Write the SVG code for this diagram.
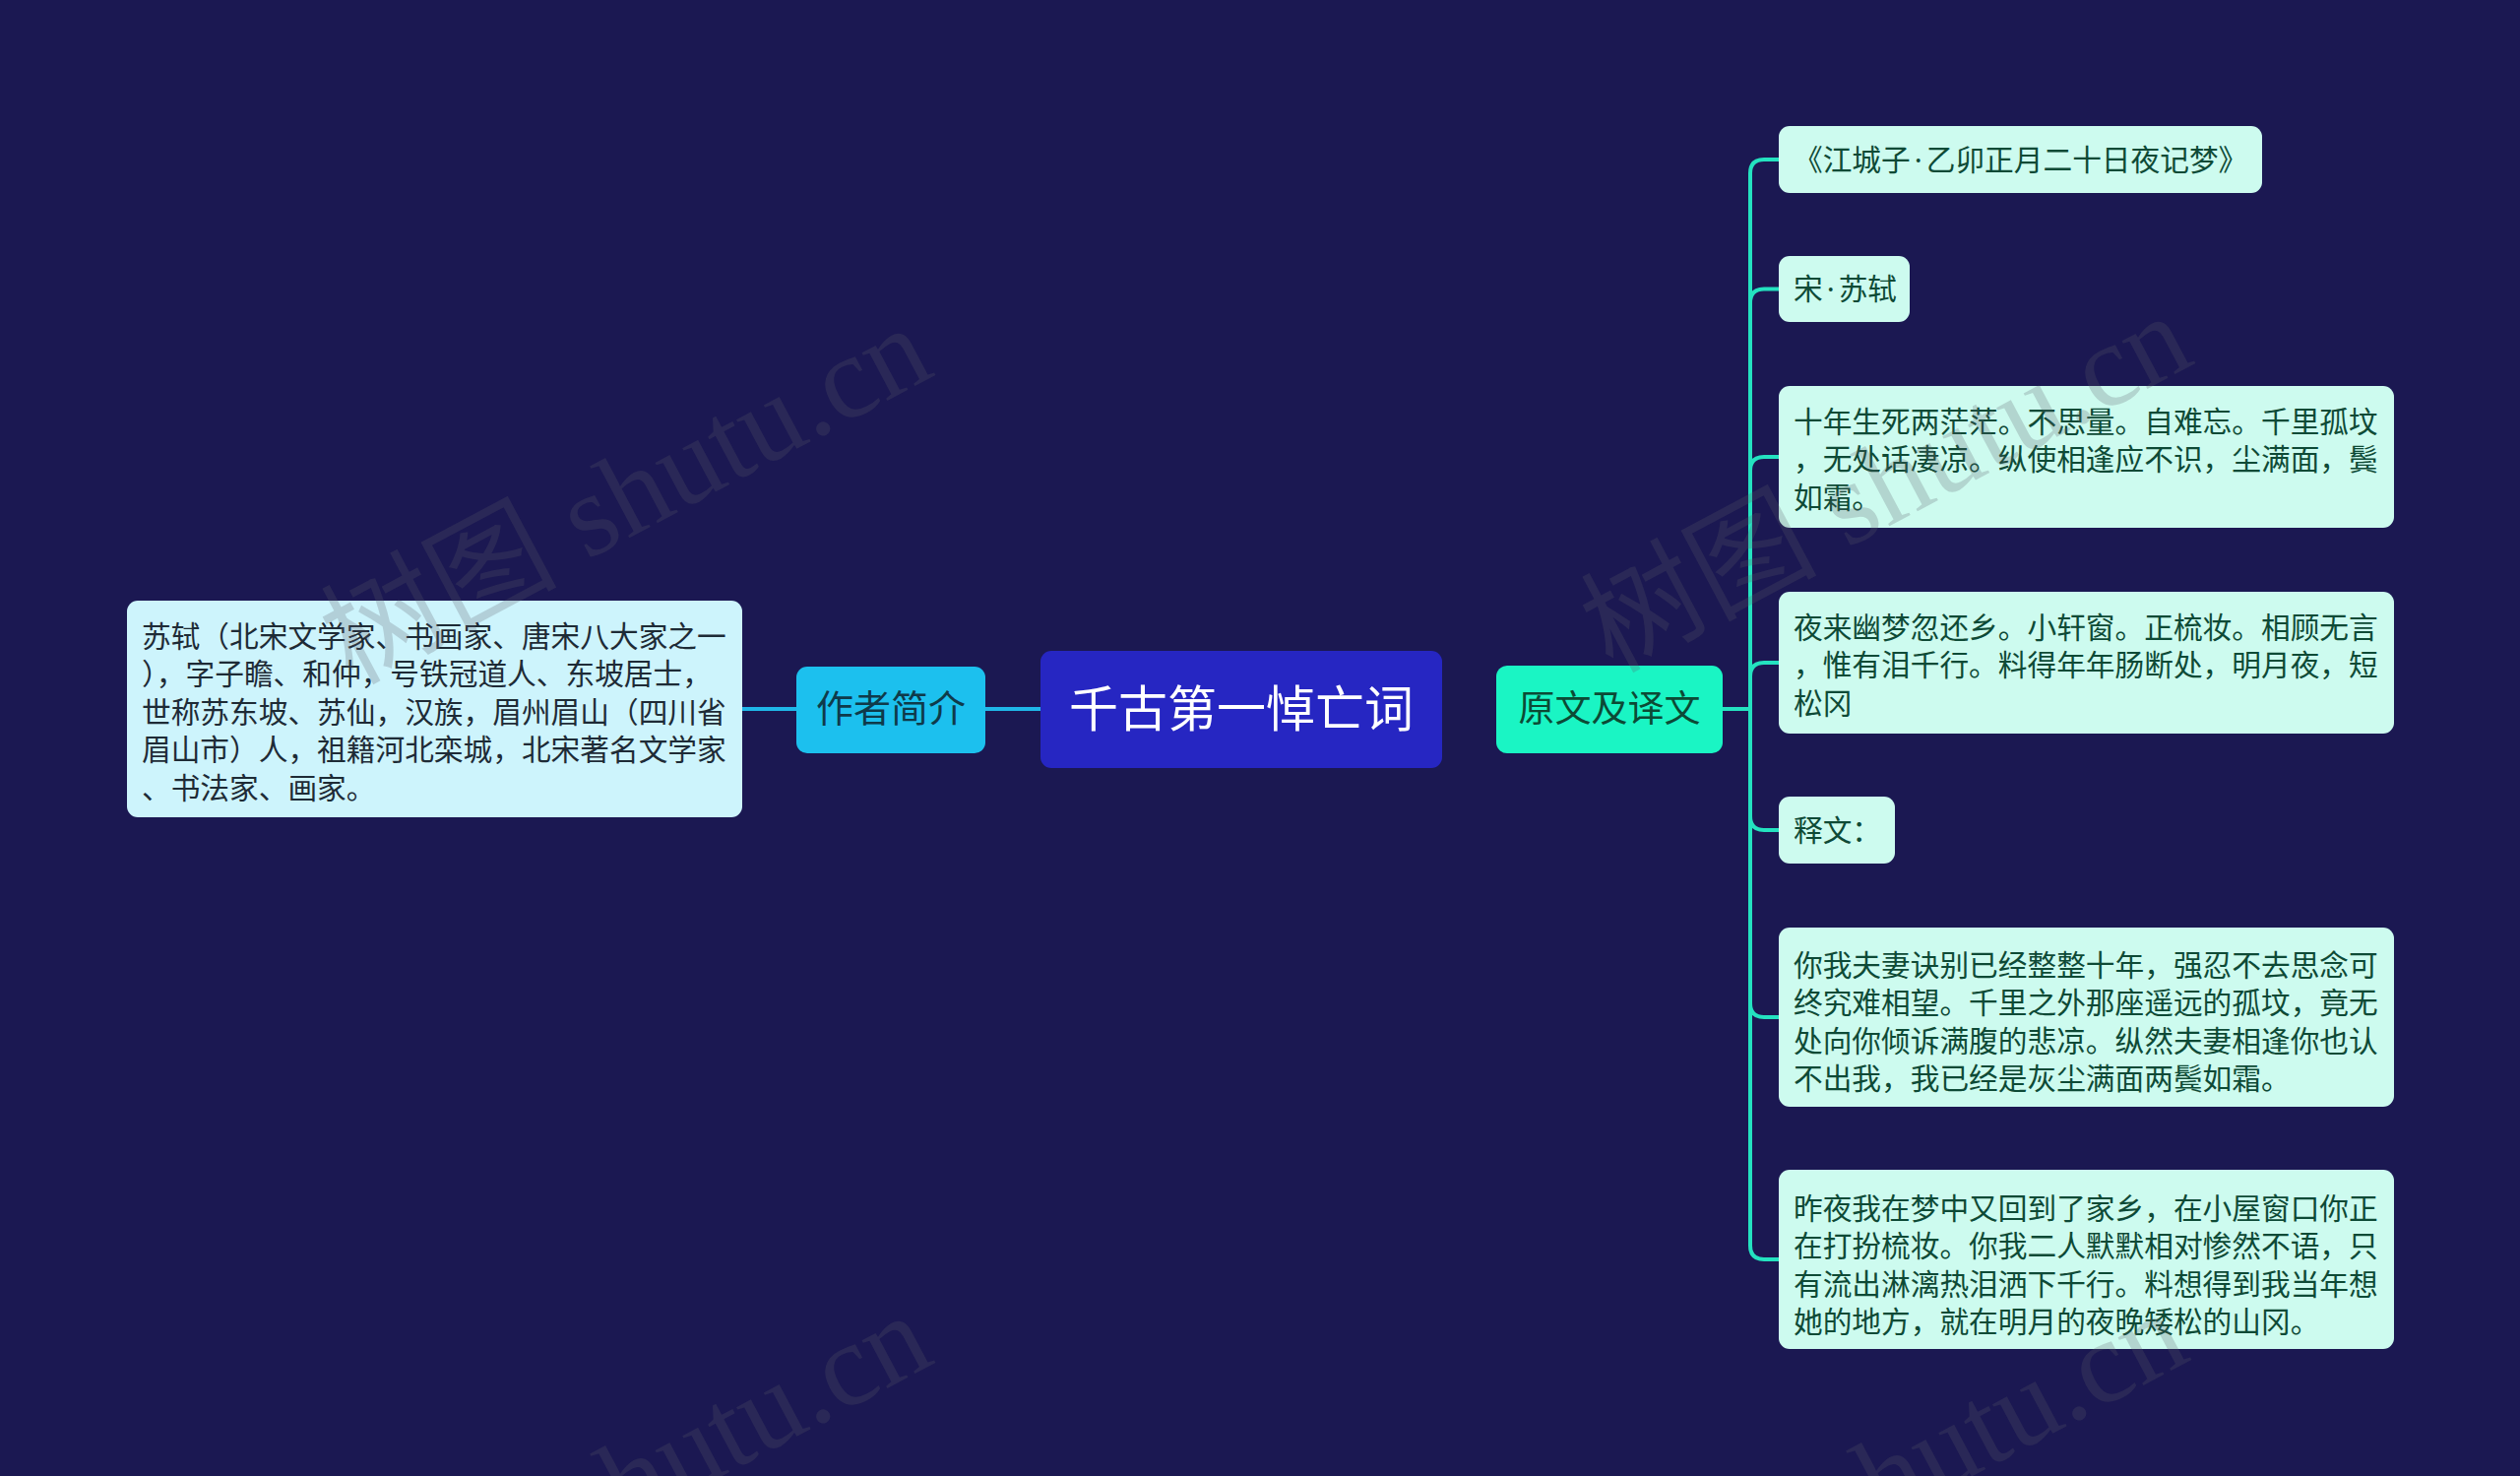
<svg xmlns="http://www.w3.org/2000/svg" width="2560" height="1499" viewBox="0 0 2560 1499">
<style>
.t{font-family:"Noto Sans CJK SC","Noto Sans",sans-serif;}
.body{font-size:29.7px;}
.dot{font-family:"Noto Sans","Noto Sans CJK SC",sans-serif;}
.left{fill:#1e2b36;}
.right{fill:#0e4a36;}
.lbox{fill:#cdf4fc;}
.rbox{fill:#cdfbef;}
.lc{fill:none;stroke:#1fb6e8;stroke-width:4;}
.rc{fill:none;stroke:#24e2c0;stroke-width:4;}
.wm{font-family:"Liberation Serif","Noto Sans CJK SC",serif;font-size:120px;fill:#5a5a6a;fill-opacity:0.24;}
</style>
<rect x="0" y="0" width="2560" height="1499" fill="#1b1852"/>
<g id="connectors">
<path class="lc" d="M1057,720 H1001"/>
<path class="lc" d="M809,720 H754"/>
<path class="rc" d="M1750,720 H1778 V176 Q1778,162 1792,162 H1807"/>
<path class="rc" d="M1750,720 H1778 V307.5 Q1778,293.5 1792,293.5 H1807"/>
<path class="rc" d="M1750,720 H1778 V478 Q1778,464 1792,464 H1807"/>
<path class="rc" d="M1750,720 H1778 V687 Q1778,673 1792,673 H1807"/>
<path class="rc" d="M1750,720 H1778 V829 Q1778,843 1792,843 H1807"/>
<path class="rc" d="M1750,720 H1778 V1019 Q1778,1033 1792,1033 H1807"/>
<path class="rc" d="M1750,720 H1778 V1265 Q1778,1279 1792,1279 H1807"/>
</g>
<g id="root">
<rect x="1057" y="661" width="408" height="119" rx="11" fill="#2626c2"/>
<text class="t" x="1261" y="737.5" font-size="50" fill="#ffffff" text-anchor="middle">千古第一悼亡词</text>
</g>
<g id="author">
<rect x="809" y="677" width="192" height="88" rx="11" fill="#1cc0ee"/>
<text class="t" x="905" y="733" font-size="38" fill="#0f3a4a" text-anchor="middle">作者简介</text>
</g>
<g id="author-detail">
<rect class="lbox" x="129" y="610" width="625" height="220" rx="11"/>
<text class="t body left">
<tspan x="144" y="657">苏轼（北宋文学家、书画家、唐宋八大家之一</tspan>
<tspan x="144" y="695.4">），字子瞻、和仲，号铁冠道人、东坡居士，</tspan>
<tspan x="144" y="733.8">世称苏东坡、苏仙，汉族，眉州眉山（四川省</tspan>
<tspan x="144" y="772.2">眉山市）人，祖籍河北栾城，北宋著名文学家</tspan>
<tspan x="144" y="810.6">、书法家、画家。</tspan>
</text>
</g>
<g id="original">
<rect x="1520" y="676" width="230" height="89" rx="11" fill="#1af5c4"/>
<text class="t" x="1635" y="733" font-size="37" fill="#0c4a35" text-anchor="middle">原文及译文</text>
</g>
<g id="title">
<rect class="rbox" x="1807" y="128" width="491" height="68" rx="11"/>
<text class="t body right" x="1822" y="172.5">《江城子<tspan class="dot" dx="4">·</tspan><tspan dx="4">乙卯正月二十日夜记梦》</tspan></text>
</g>
<g id="poet">
<rect class="rbox" x="1807" y="260" width="133" height="67" rx="11"/>
<text class="t body right" x="1822" y="304">宋<tspan class="dot" dx="4">·</tspan><tspan dx="4">苏轼</tspan></text>
</g>
<g id="verse1">
<rect class="rbox" x="1807" y="392" width="625" height="144" rx="11"/>
<text class="t body right">
<tspan x="1822" y="438.5">十年生死两茫茫。不思量。自难忘。千里孤坟</tspan>
<tspan x="1822" y="477">，无处话凄凉。纵使相逢应不识，尘满面，鬓</tspan>
<tspan x="1822" y="515.5">如霜。</tspan>
</text>
</g>
<g id="verse2">
<rect class="rbox" x="1807" y="601" width="625" height="144" rx="11"/>
<text class="t body right">
<tspan x="1822" y="647.5">夜来幽梦忽还乡。小轩窗。正梳妆。相顾无言</tspan>
<tspan x="1822" y="686">，惟有泪千行。料得年年肠断处，明月夜，短</tspan>
<tspan x="1822" y="724.5">松冈</tspan>
</text>
</g>
<g id="explain">
<rect class="rbox" x="1807" y="809" width="118" height="68" rx="11"/>
<text class="t body right" x="1822" y="853.5">释文：</text>
</g>
<g id="trans1">
<rect class="rbox" x="1807" y="942" width="625" height="182" rx="11"/>
<text class="t body right">
<tspan x="1822" y="990.5">你我夫妻诀别已经整整十年，强忍不去思念可</tspan>
<tspan x="1822" y="1029">终究难相望。千里之外那座遥远的孤坟，竟无</tspan>
<tspan x="1822" y="1067.5">处向你倾诉满腹的悲凉。纵然夫妻相逢你也认</tspan>
<tspan x="1822" y="1106">不出我，我已经是灰尘满面两鬓如霜。</tspan>
</text>
</g>
<g id="trans2">
<rect class="rbox" x="1807" y="1188" width="625" height="182" rx="11"/>
<text class="t body right">
<tspan x="1822" y="1237.5">昨夜我在梦中又回到了家乡，在小屋窗口你正</tspan>
<tspan x="1822" y="1276">在打扮梳妆。你我二人默默相对惨然不语，只</tspan>
<tspan x="1822" y="1314.5">有流出淋漓热泪洒下千行。料想得到我当年想</tspan>
<tspan x="1822" y="1353">她的地方，就在明月的夜晚矮松的山冈。</tspan>
</text>
</g>
<g id="watermark">
<text class="wm" text-anchor="end" transform="translate(952,380) rotate(-28)">树图 shutu.cn</text>
<text class="wm" text-anchor="end" transform="translate(2232,368) rotate(-28)">树图 shutu.cn</text>
<text class="wm" text-anchor="end" transform="translate(952,1383) rotate(-28)">树图 shutu.cn</text>
<text class="wm" text-anchor="end" transform="translate(2228,1380) rotate(-28)">树图 shutu.cn</text>
</g>
</svg>
